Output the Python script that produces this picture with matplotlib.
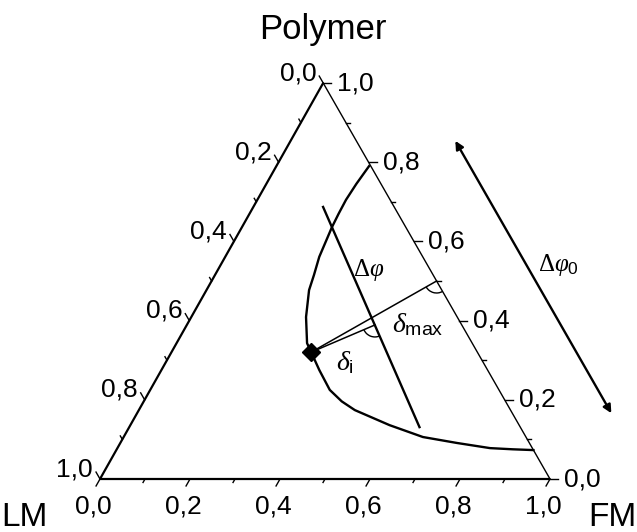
import matplotlib
matplotlib.use('Agg')
import numpy as np
import matplotlib.pyplot as plt
from matplotlib.patches import Arc

plt.rcParams['font.family'] = ['Liberation Sans', 'DejaVu Sans']
plt.rcParams['mathtext.fontset'] = 'custom'
plt.rcParams['mathtext.rm'] = 'Liberation Serif'
plt.rcParams['mathtext.it'] = 'Liberation Serif:italic'
plt.rcParams['mathtext.sf'] = 'Liberation Sans'

# binodal curve as (FM, Polymer) fractions
binodal_fm = [0.206, 0.200, 0.197, 0.198, 0.200, 0.209, 0.220, 0.228, 0.255, 0.290,
              0.351, 0.399, 0.440, 0.480, 0.576, 0.665, 0.748, 0.828, 0.880, 0.927]
binodal_pol = [0.790, 0.745, 0.705, 0.670, 0.636, 0.561, 0.515, 0.477, 0.409, 0.343,
               0.275, 0.225, 0.196, 0.174, 0.136, 0.106, 0.091, 0.078, 0.075, 0.073]

# feed point and the lines drawn from it
feed = (0.31, 0.32)
dphi_fm = [0.155, 0.645]
dphi_pol = [0.687, 0.131]
dmax_end = (0.50, 0.50)      # on the FM-Polymer side
di_end = (0.418, 0.389)      # on the dphi line

# double arrow outside the triangle (constant LM offset)
arrow_lm = -0.22
arrow_pol = [0.86, 0.16]

tick_values = [0.0, 0.2, 0.4, 0.6, 0.8, 1.0]
tick_labels = ['0,0', '0,2', '0,4', '0,6', '0,8', '1,0']
minor_values = [0.1, 0.3, 0.5, 0.7, 0.9]

TX, TY = 0.496, 0.88


def tern(fm, pol):
    fm = np.asarray(fm, dtype=float)
    pol = np.asarray(pol, dtype=float)
    return fm + pol * TX, pol * TY


fig = plt.figure(figsize=(6.37, 5.32), dpi=100)
ax = fig.add_axes([0, 0, 1, 1])
ax.set_xlim(-100 / 450, 537 / 450)
ax.set_ylim(-53 / 450, 479 / 450)
ax.set_aspect('equal')
ax.axis('off')

# triangle
lm_pt = tern(0, 0)
fm_pt = tern(1, 0)
top_pt = tern(0, 1)
ax.plot([top_pt[0], lm_pt[0], fm_pt[0]], [top_pt[1], lm_pt[1], fm_pt[1]], color='black', lw=1.6,
        solid_capstyle='butt')
ax.plot([fm_pt[0], top_pt[0]], [fm_pt[1], top_pt[1]], color='black', lw=1.0)

px = 1 / 450
d_left = np.array([TX - 1, TY]) / np.hypot(TX - 1, TY)      # up-left, along right side
d_bottom = -np.array([TX, TY]) / np.hypot(TX, TY)          # down-left, along left side
d_right = np.array([1.0, 0.0])

for v, major in [(v, True) for v in tick_values] + [(v, False) for v in minor_values]:
    L = (8 if major else 4) * px
    # bottom axis: FM fraction
    x0, y0 = tern(v, 0)
    ax.plot([x0, x0 + L * d_bottom[0]], [y0, y0 + L * d_bottom[1]], color='black', lw=1.0)
    # right axis: Polymer fraction
    x0, y0 = tern(1 - v, v)
    ax.plot([x0, x0 + L * d_right[0]], [y0, y0 + L * d_right[1]], color='black', lw=1.0)
    # left axis: LM fraction
    x0, y0 = tern(0, 1 - v)
    ax.plot([x0, x0 + L * d_left[0]], [y0, y0 + L * d_left[1]], color='black', lw=1.0)

fs_tick = 19
for v, lab in zip(tick_values, tick_labels):
    L = 8 * px
    x0, y0 = tern(v, 0)
    ax.text(x0 + L * d_bottom[0] - 3 * px, y0 + L * d_bottom[1] - 9 * px, lab,
            ha='center', va='top', fontsize=fs_tick)
    x0, y0 = tern(1 - v, v)
    ax.text(x0 + L + 6 * px, y0, lab, ha='left', va='center', fontsize=fs_tick)
    x0, y0 = tern(0, 1 - v)
    ax.text(x0 + L * d_left[0] - 3 * px, y0 + L * d_left[1] + 3 * px, lab,
            ha='right', va='center', fontsize=fs_tick)

# corner names
ax.text(top_pt[0], 449 * px, 'Polymer', ha='center', va='center', fontsize=25)
ax.text(-76 * px, -39 * px, 'LM', ha='center', va='center', fontsize=24)
ax.text(512 * px, -39 * px, 'FM', ha='center', va='center', fontsize=24)

# binodal
bx, by = tern(binodal_fm, binodal_pol)
ax.plot(bx, by, color='black', lw=1.7)

# dphi line
lx, ly = tern(dphi_fm, dphi_pol)
ax.plot(lx, ly, color='black', lw=1.7)

# delta lines from the feed point
fx, fy = tern(*feed)
rx, ry = tern(*dmax_end)
qx, qy = tern(*di_end)
ax.plot([fx, rx], [fy, ry], color='black', lw=1.1)
ax.plot([fx, qx], [fy, qy], color='black', lw=1.1)
ax.plot(fx, fy, marker='D', ms=9, color='black', zorder=5)

# angle marks
ang_rd = np.degrees(np.arctan2(fy - ry, fx - rx)) % 360
ang_edge = np.degrees(np.arctan2(fm_pt[1] - top_pt[1], fm_pt[0] - top_pt[0])) % 360
ax.add_patch(Arc((rx, ry), 24 * px, 24 * px, theta1=ang_rd, theta2=ang_edge, color='black', lw=1.0))
ang_qd = np.degrees(np.arctan2(fy - qy, fx - qx)) % 360
ang_line = np.degrees(np.arctan2(ly[1] - ly[0], lx[1] - lx[0])) % 360
ax.add_patch(Arc((qx, qy), 24 * px, 24 * px, theta1=ang_qd, theta2=ang_line, color='black', lw=1.0))

# labels
t = tern(0.334, 0.528)
ax.text(t[0], t[1], r'$\Delta\varphi$', ha='center', va='center', fontsize=18)
t = tern(0.511, 0.391)
ax.text(t[0], t[1], r'$\delta_{\mathsf{max}}$', ha='center', va='center', fontsize=20)
t = tern(0.398, 0.293)
ax.text(t[0], t[1], r'$\delta_{\mathsf{i}}$', ha='center', va='center', fontsize=20)
t = tern(0.752, 0.540)
ax.text(t[0], t[1], r'$\Delta\varphi_{\mathsf{0}}$', ha='center', va='center', fontsize=18)

# double arrow
a0 = tern(1 - arrow_pol[0] - arrow_lm, arrow_pol[0])
a1 = tern(1 - arrow_pol[1] - arrow_lm, arrow_pol[1])
ax.annotate('', xy=a0, xytext=a1,
            arrowprops=dict(arrowstyle='<|-|>', color='black', lw=1.7, mutation_scale=12))

fig.savefig('out.png', dpi=100)
